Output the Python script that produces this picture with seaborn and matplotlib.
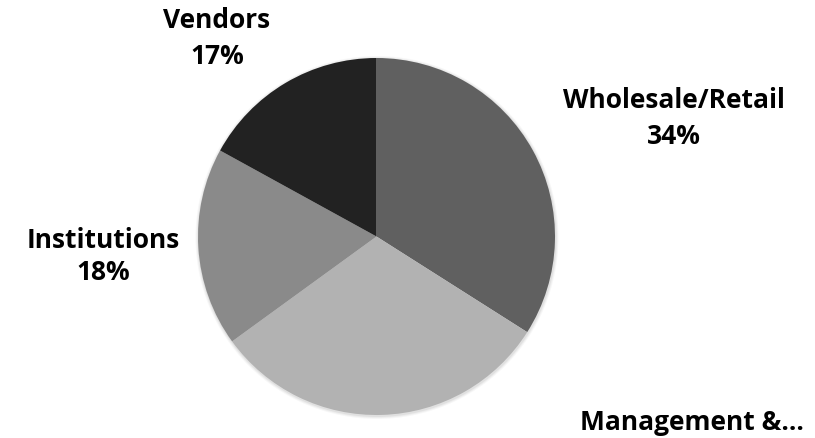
import matplotlib
matplotlib.use("Agg")
import matplotlib.pyplot as plt
import seaborn as sns
from matplotlib.patches import Circle

categories = ["Wholesale/Retail", "Management &...", "Institutions", "Vendors"]
shares = [34, 31, 18, 17]
colors = ["#606060", "#b2b2b2", "#8a8a8a", "#222222"]

sns.set_theme(style="white")
plt.rcParams['font.family'] = ['Open Sans', 'DejaVu Sans']

W, H = 815, 438
fig = plt.figure(figsize=(W / 100, H / 100), dpi=100)
ax = fig.add_axes([0, 0, 1, 1])
ax.set_xlim(0, W)
ax.set_ylim(0, H)
ax.set_aspect('equal')
ax.axis('off')

cx, cy, r = 376.5, H - 236.5, 178.5

# soft shadow around the pie
for i, a in enumerate([0.05, 0.04, 0.03]):
    ax.add_patch(Circle((cx + 0.5, cy - 1), r + 1 + i, color='black', alpha=a, lw=0, zorder=0))

ax.pie(shares, colors=colors, startangle=90, counterclock=False,
       center=(cx, cy), radius=r, frame=True,
       wedgeprops=dict(linewidth=0, edgecolor='none'))
ax.set_xlim(0, W)
ax.set_ylim(0, H)
ax.axis('off')

label_pos = [(674, 101, 137), (692, 423, None), (103, 241, 273), (217, 20, 57)]
for name, val, (x, y1, y2) in zip(categories, shares, label_pos):
    ax.text(x, H - y1, name, ha='center', va='center', fontsize=19,
            fontweight='bold', color='black')
    if y2 is not None:
        ax.text(x, H - y2, f"{val}%", ha='center', va='center', fontsize=19,
                fontweight='bold', color='black')

fig.savefig("out.png", dpi=100)
